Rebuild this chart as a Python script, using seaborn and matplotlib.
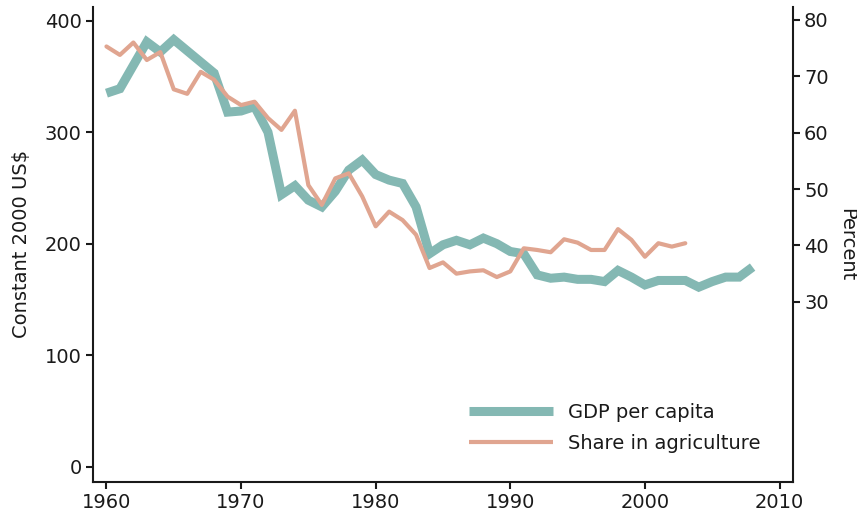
import matplotlib
matplotlib.use("Agg")
import matplotlib.pyplot as plt
import seaborn as sns
import pandas as pd
from matplotlib.lines import Line2D

years_gdp = list(range(1960, 2009))
gdp = [335, 339, 360, 381, 372, 383, 373, 363, 353, 318, 319, 323, 300, 244,
       252, 239, 233, 247, 266, 275, 262, 257, 254, 233, 191, 199, 203, 199,
       205, 200, 193, 191, 172, 169, 170, 168, 168, 166, 176, 170, 163, 167,
       167, 167, 161, 166, 170, 170, 179]
years_agr = list(range(1960, 2004))
agr = [75.3, 73.8, 76.0, 72.9, 74.3, 67.7, 66.9, 70.8, 69.4, 66.4, 64.9, 65.5,
       62.6, 60.5, 63.9, 50.7, 47.2, 51.9, 52.8, 48.7, 43.4, 46.0, 44.5, 41.9,
       36.0, 37.0, 35.0, 35.4, 35.6, 34.4, 35.4, 39.5, 39.2, 38.8, 41.1, 40.5,
       39.2, 39.2, 42.9, 41.0, 38.0, 40.4, 39.8, 40.4]
left_ticks = [0, 100, 200, 300, 400]
right_ticks = [30, 40, 50, 60, 70, 80]
x_ticks = [1960, 1970, 1980, 1990, 2000, 2010]
labels = ["GDP per capita", "Share in agriculture"]

teal = "#84b8b3"
salmon = "#e0a590"
dark = "#1a1a1a"

sns.set_theme(style="white")
plt.rcParams["font.family"] = ["DejaVu Sans"]

df_gdp = pd.DataFrame({"year": years_gdp, "gdp": gdp})
df_agr = pd.DataFrame({"year": years_agr, "agr": agr})

fig = plt.figure(figsize=(8.57, 5.19), dpi=100)
ax = fig.add_axes([0.1085, 0.0719, 0.9253 - 0.1085, 0.9865 - 0.0719])
ax2 = ax.twinx()

sns.lineplot(data=df_gdp, x="year", y="gdp", ax=ax, color=teal, linewidth=6.5,
             solid_joinstyle="miter", solid_capstyle="butt")
sns.lineplot(data=df_agr, x="year", y="agr", ax=ax2, color=salmon, linewidth=3.0)

ax.set_xlim(1959.0, 2011.0)
ax.set_ylim(-13.5, 412.3)
ax2.set_ylim(-1.9, 82.3)
ax.set_xticks(x_ticks)
ax.set_yticks(left_ticks)
ax2.set_yticks(right_ticks)

for a in (ax, ax2):
    a.spines["top"].set_visible(False)
    for s in ("left", "right", "bottom"):
        a.spines[s].set_color(dark)
        a.spines[s].set_linewidth(1.5)
    a.tick_params(direction="out", length=5, width=1.5, color=dark,
                  labelsize=14, labelcolor=dark, pad=3)
    a.grid(False)
ax.tick_params(left=True, bottom=True)
ax2.tick_params(right=True)
ax.spines["right"].set_visible(False)
ax2.spines["left"].set_visible(False)
ax2.spines["bottom"].set_visible(False)

ax.set_xlabel("")
ax.set_ylabel("Constant 2000 US$", fontsize=14, color=dark, labelpad=10)
ax2.set_ylabel("Percent", fontsize=14, color=dark, rotation=270, labelpad=20)

handles = [Line2D([], [], color=teal, linewidth=6.5, solid_capstyle="butt"),
           Line2D([], [], color=salmon, linewidth=3.0, solid_capstyle="butt")]
ax2.legend(handles, labels, loc="lower right", bbox_to_anchor=(0.979, 0.024),
           frameon=False, fontsize=14, handlelength=4.3, labelspacing=0.62,
           handletextpad=0.8, labelcolor=dark)

fig.savefig("out.png", dpi=100)
